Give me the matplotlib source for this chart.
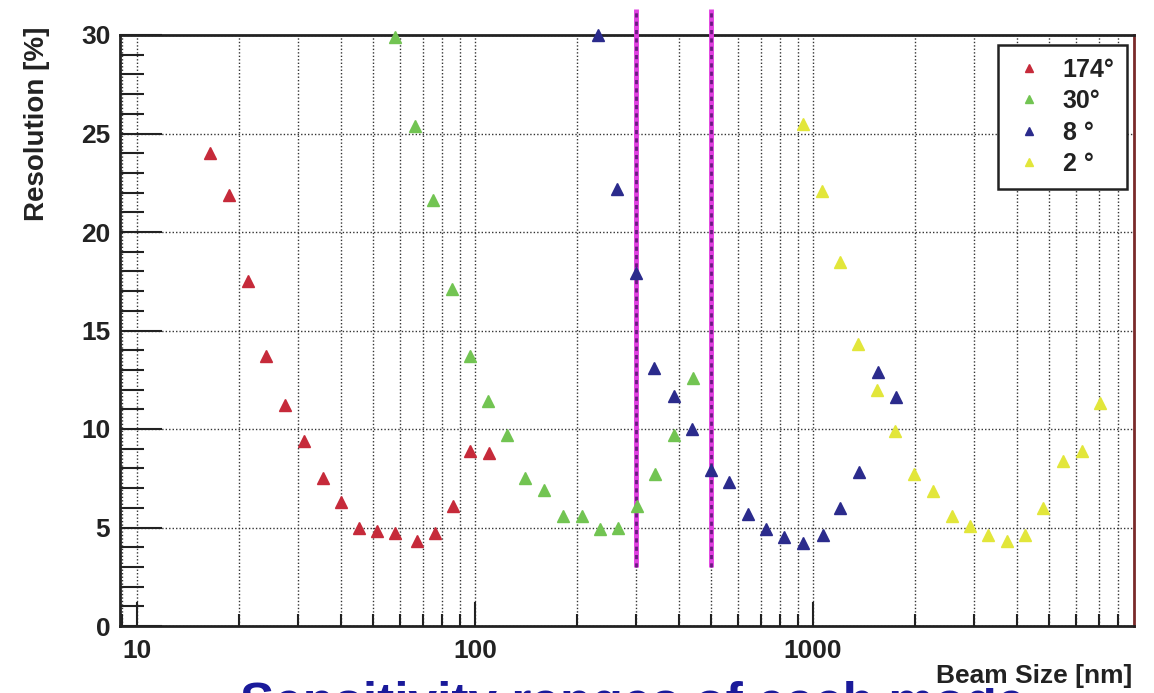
import matplotlib.pyplot as plt
from matplotlib.ticker import MultipleLocator, NullFormatter, LogLocator

plt.rcParams['font.family'] = ['Liberation Sans', 'DejaVu Sans']

# beam size [nm] and resolution [%] for each crossing angle
red_x = [16.4, 18.7, 21.3, 24.1, 27.4, 31.2, 35.5, 40.2, 45.4, 51.3, 58.0, 67.4, 76.1, 86.1, 96.6, 110]
red_y = [24.0, 21.9, 17.5, 13.7, 11.2, 9.4, 7.5, 6.3, 4.95, 4.8, 4.7, 4.3, 4.7, 6.1, 8.9, 8.8]

green_x = [58.0, 66.4, 75.1, 85.5, 96.6, 109.3, 124.4, 140.6, 160.0, 182.1, 207.3, 234.4, 265.0, 301.6, 340.9, 388.0, 441.6]
green_y = [29.9, 25.4, 21.6, 17.1, 13.7, 11.4, 9.7, 7.5, 6.9, 5.6, 5.6, 4.9, 5.0, 6.1, 7.7, 9.7, 12.6]

blue_x = [231, 263, 300, 339, 388, 439, 499, 564, 642, 726, 821, 934, 1070, 1202, 1368, 1557, 1760]
blue_y = [30.0, 22.2, 17.9, 13.1, 11.7, 10.0, 7.9, 7.3, 5.7, 4.9, 4.5, 4.2, 4.6, 6.0, 7.8, 12.9, 11.6]

yellow_x = [934, 1063, 1202, 1359, 1546, 1748, 1990, 2265, 2578, 2914, 3294, 3750, 4239, 4792, 5490, 6251, 7066]
yellow_y = [25.5, 22.1, 18.5, 14.3, 12.0, 9.9, 7.7, 6.85, 5.6, 5.1, 4.6, 4.3, 4.6, 6.0, 8.4, 8.9, 11.3]

labels = ['174°', '30°', '8 °', '2 °']

# mode switch boundaries
bound_x = [300, 500]
bound_lo = 3
bound_hi = 31.3

fig = plt.figure(figsize=(11.54, 6.93), dpi=100)
ax = fig.add_axes([120/1154, 67/693, 1014/1154, 591/693])

ax.set_xscale('log')
ax.set_xlim(8.9, 8900)
ax.set_ylim(0, 30)

ax.plot(red_x, red_y, '^', color='#c62a3a', markersize=9, label=labels[0], clip_on=False, zorder=5)
ax.plot(green_x, green_y, '^', color='#72c452', markersize=9, label=labels[1], clip_on=False, zorder=5)
ax.plot(blue_x, blue_y, '^', color='#2b2b8c', markersize=9, label=labels[2], clip_on=False, zorder=5)
ax.plot(yellow_x, yellow_y, '^', color='#e2e63a', markersize=9, label=labels[3], clip_on=False, zorder=5)

ax.vlines(bound_x, bound_lo, bound_hi, color='#e040e0', linewidth=3.5, clip_on=False, zorder=4)
ax.vlines(bound_x, bound_lo, bound_hi, color='#6a1a80', linewidth=2, linestyles=(0, (1.5, 1.5)), clip_on=False, zorder=4)

ax.set_xticks([10, 100, 1000])
ax.set_xticklabels(['10', '100', '1000'])
ax.xaxis.set_minor_locator(LogLocator(base=10, subs=range(2, 10)))
ax.xaxis.set_minor_formatter(NullFormatter())
ax.yaxis.set_major_locator(MultipleLocator(5))
ax.yaxis.set_minor_locator(MultipleLocator(1))

ax.grid(which='both', axis='x', color='#333333', linestyle=(0, (1, 1.5)), linewidth=1.0)
ax.grid(which='major', axis='y', color='#333333', linestyle=(0, (1, 1.5)), linewidth=1.0)

ax.tick_params(which='both', direction='in', top=False, right=False, width=1.5, colors='#222222')
ax.tick_params(axis='y', which='major', length=30, pad=7)
ax.tick_params(axis='y', which='minor', length=17)
ax.tick_params(axis='x', which='major', length=17, pad=9)
ax.tick_params(axis='x', which='minor', length=9)

for lab in ax.get_xticklabels() + ax.get_yticklabels():
    lab.set_fontsize(19)
    lab.set_fontweight('bold')
    lab.set_color('#222222')

for s in ['left', 'bottom', 'top']:
    ax.spines[s].set_linewidth(2)
    ax.spines[s].set_color('#222222')
ax.spines['right'].set_linewidth(2)
ax.spines['right'].set_color('#7a2a2a')

fig.text(37/1154, 1 - 27/693, 'Resolution [%]', rotation=90, ha='center', va='top',
         fontsize=20, fontweight='bold', color='#222222')

# slide text partly cut off by the bottom edge, drawn below the axis title
fig.text(240/1154, -0.038, 'Sensitivity ranges of each mode', ha='left', va='baseline',
         fontsize=37, fontweight='bold', color='#1a1a9a', zorder=0)
fig.text(1132/1154, 1 - 676/693, 'Beam Size [nm]', ha='right', va='center',
         fontsize=19, fontweight='bold', color='#222222', zorder=2,
         bbox=dict(facecolor='white', edgecolor='none', pad=0))

leg = ax.legend(loc='upper right', bbox_to_anchor=(0.993, 0.983), borderaxespad=0,
                fancybox=False, framealpha=1, edgecolor='#222222', fontsize=18,
                markerscale=0.7, labelspacing=0.3, handletextpad=0.6, borderpad=0.5,
                handlelength=1.5)
leg.get_frame().set_linewidth(1.8)
for t in leg.get_texts():
    t.set_fontweight('bold')
    t.set_color('#222222')

fig.savefig('out.png', dpi=100)
